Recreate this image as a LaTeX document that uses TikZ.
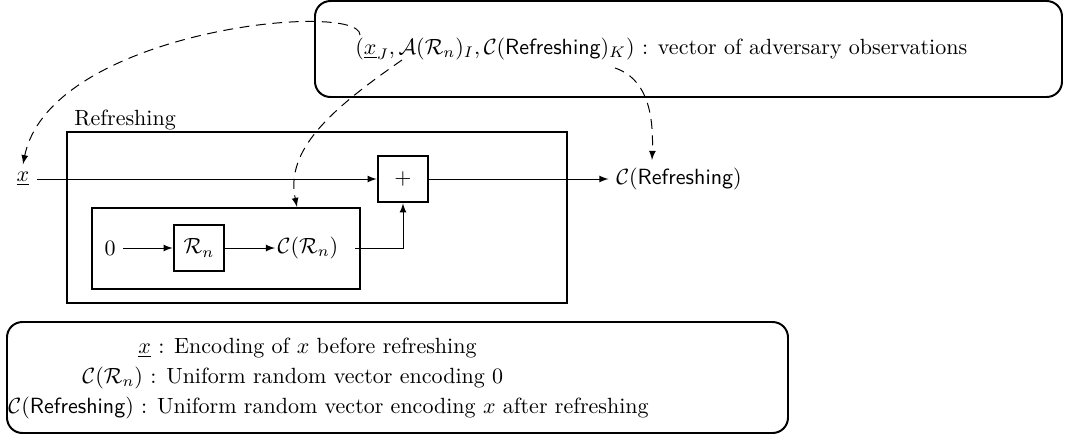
\documentclass[tikz,border=0pt]{standalone}
\usepackage{amsmath}
\usetikzlibrary{arrows}
\begin{document}
\begin{tikzpicture}[x=0.4545pt,y=-0.4545pt,
  flow/.style={-latex, line width=0.45pt},
  obsarrow/.style={-latex, line width=0.45pt, dash pattern=on 4.5pt off 3pt},
  opbox/.style={draw, line width=1.2pt, minimum width=22.7pt, minimum height=20.9pt, inner sep=0pt},
  panel/.style={draw, line width=0.9pt, rounded corners=7pt},
  plain/.style={inner sep=0pt},
]
\useasboundingbox (0,0) rectangle (1081,435);

% adversary observation panel
\draw[panel] (315,1) rectangle (1062,97);
\node[plain, anchor=base west] (obs) at (355,54)
  {$(\underline{x}_J, \mathcal{A}(\mathcal{R}_n)_I, \mathcal{C}(\textsf{Refreshing})_K)$ : vector of adversary observations};
\coordinate (xj) at (360,35);
\coordinate (ar) at (402,60);
\coordinate (ck) at (615,68);

% refreshing gadget
\draw[line width=1.3pt] (67,132) rectangle (567,303);
\node[plain, anchor=base west] (title) at (74,125) {Refreshing};
\draw[line width=0.9pt] (92,208) rectangle (360,289);

\node (x) at (23,179) {$\underline{x}$};
\node[opbox] (plus) at (403,179) {$+$};
\node (cref) at (679,179) {$\mathcal{C}(\textsf{Refreshing})$};
\node (zero) at (110,248) {$0$};
\node[opbox] (rn) at (199,248) {$\mathcal{R}_n$};
\node[inner sep=1pt] (crn) at (308,248) {$\mathcal{C}(\mathcal{R}_n)$};

\draw[flow] (x.east |- plus.west) -- (plus.west);
\draw[flow] (plus.east) -- (cref.west);
\draw[flow] (zero.east) -- (rn.west);
\draw[flow] (rn.east) -- (crn.west);
\draw[flow] ([xshift=6.5pt]crn.east) -| (plus.south);

% observation links
\coordinate (crnin) at (297,207);
\coordinate (crefin) at (652,160);
\draw[obsarrow] (xj) .. controls (360,0) and (50,30) .. (x.north);
\draw[obsarrow] (ar) .. controls (330,110) and (285,150) .. (crnin);
\draw[obsarrow] (ck) .. controls (645,78) and (654,110) .. (crefin);

% legend
\draw[panel] (7,322) rectangle (788,433);
\node[plain, anchor=base west] (l1) at (138,353) {$\underline{x}$ : Encoding of $x$ before refreshing};
\node[plain, anchor=base west] (l2) at (82,383) {$\mathcal{C}(\mathcal{R}_n)$ : Uniform random vector encoding 0};
\node[plain, anchor=base west] (l3) at (8,413) {$\mathcal{C}(\textsf{Refreshing})$ : Uniform random vector encoding $x$ after refreshing};
\end{tikzpicture}
\end{document}
